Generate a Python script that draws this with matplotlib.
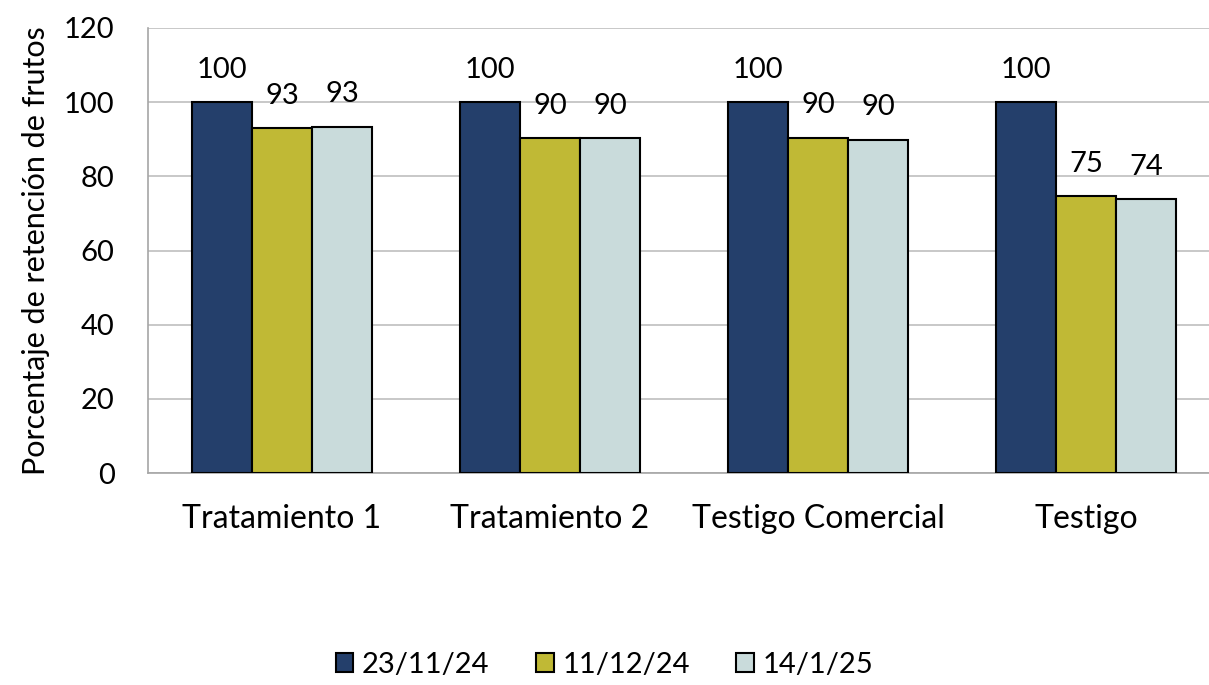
import numpy as np
import matplotlib.pyplot as plt

plt.rcParams['font.family'] = ['Lato', 'DejaVu Sans']

# Datos
categorias = ['Tratamiento 1', 'Tratamiento 2', 'Testigo Comercial', 'Testigo']
fechas = ['23/11/24', '11/12/24', '14/1/25']
serie_1 = [100, 100, 100, 100]
serie_2 = [92.9, 90.3, 90.4, 74.7]
serie_3 = [93.4, 90.3, 89.9, 73.9]
colores = ['#243F6B', '#C0B935', '#C9DBDB']

fig = plt.figure(figsize=(12.09, 6.85), dpi=100)
ax = fig.add_axes([148 / 1209, 1 - 473 / 685, 1072 / 1209, 445 / 685])

x = np.arange(len(categorias))
ancho = 0.224
for i, (vals, fecha) in enumerate(zip([serie_1, serie_2, serie_3], fechas)):
    barras = ax.bar(x + (i - 1) * ancho, vals, ancho, color=colores[i],
                    edgecolor='black', linewidth=1.5, label=fecha, zorder=3)
    for b, v in zip(barras, vals):
        ax.annotate(f'{v:.0f}', (b.get_x() + b.get_width() / 2, v),
                    xytext=(0, 14), textcoords='offset points',
                    ha='center', va='bottom', fontsize=21)

ax.set_xlim(-0.5, 3.5)
ax.set_ylim(0, 120)
ax.set_yticks(range(0, 121, 20))
ax.set_xticks(x)
ax.set_xticklabels(categorias)
ax.tick_params(axis='both', length=0, labelsize=21)
ax.tick_params(axis='x', pad=22, labelsize=23)
ax.tick_params(axis='y', pad=24)
ax.yaxis.grid(True, color='#BFBFBF', linewidth=1.2, zorder=0)
ax.set_axisbelow(True)
for s in ['top', 'right']:
    ax.spines[s].set_visible(False)
for s in ['left', 'bottom']:
    ax.spines[s].set_color('#A6A6A6')
    ax.spines[s].set_linewidth(1.2)
ax.set_ylabel('Porcentaje de retención de frutos', fontsize=22, labelpad=10)

fig.legend(loc='center', bbox_to_anchor=(0.5, 1 - 665 / 685), ncol=3,
           frameon=False, fontsize=21, handlelength=0.6, handleheight=0.6,
           handletextpad=0.3, columnspacing=1.6)

fig.savefig('out.png', dpi=100)
